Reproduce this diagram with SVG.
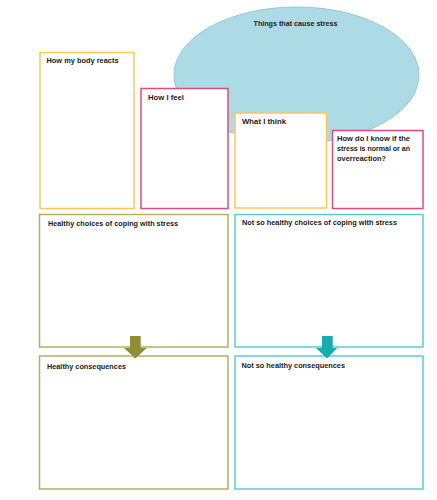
<svg xmlns="http://www.w3.org/2000/svg" width="437" height="500" viewBox="0 0 437 500">
<style>
.t{font-family:"Liberation Sans",Arial,sans-serif;font-weight:bold;font-size:7.2px;fill:#1a1a1a}
.box{fill:#fff;stroke-width:1.5}
.or{stroke:#fcc75a}
.pk{stroke:#e04d7c}
.ol{stroke:#b3ae68}
.tl{stroke:#5ccbd3}
</style>
<rect width="437" height="500" fill="#fff"/>
<g id="causes">
<ellipse cx="296.5" cy="75" rx="122.5" ry="68" fill="#addbe5" stroke="#93c8d6" stroke-width="1"/>
<text class="t" x="253.5" y="25.5" textLength="84" lengthAdjust="spacingAndGlyphs">Things that cause stress</text>
</g>
<g id="body">
<rect class="box or" x="40" y="52.5" width="94" height="156"/>
<text class="t" x="46.5" y="63" textLength="72" lengthAdjust="spacingAndGlyphs">How my body reacts</text>
</g>
<g id="feel">
<rect class="box pk" x="141" y="88.5" width="87" height="120"/>
<text class="t" x="148" y="99.5" textLength="36" lengthAdjust="spacingAndGlyphs">How I feel</text>
</g>
<g id="think">
<rect class="box or" x="235" y="113" width="91.5" height="95"/>
<text class="t" x="242" y="123.5" textLength="44" lengthAdjust="spacingAndGlyphs">What I think</text>
</g>
<g id="know">
<rect class="box pk" x="332.5" y="130.5" width="90.5" height="78"/>
<text class="t" x="337" y="140.5" textLength="73" lengthAdjust="spacingAndGlyphs">How do I know if the</text>
<text class="t" x="337" y="150.8" textLength="73" lengthAdjust="spacingAndGlyphs">stress is normal or an</text>
<text class="t" x="337" y="161" textLength="49" lengthAdjust="spacingAndGlyphs">overreaction?</text>
</g>
<g id="healthy-choices">
<rect class="box ol" x="39.5" y="214.5" width="188.5" height="132.5"/>
<text class="t" x="48" y="226" textLength="130" lengthAdjust="spacingAndGlyphs">Healthy choices of coping with stress</text>
</g>
<g id="unhealthy-choices">
<rect class="box tl" x="235" y="214.5" width="188" height="132.5"/>
<text class="t" x="242" y="224.5" textLength="155" lengthAdjust="spacingAndGlyphs">Not so healthy choices of coping with stress</text>
</g>
<g id="healthy-consequences">
<rect class="box ol" x="39.5" y="356" width="188.5" height="133"/>
<text class="t" x="47" y="369" textLength="79" lengthAdjust="spacingAndGlyphs">Healthy consequences</text>
</g>
<g id="unhealthy-consequences">
<rect class="box tl" x="235" y="356" width="188" height="133"/>
<text class="t" x="241.5" y="367.8" textLength="103.5" lengthAdjust="spacingAndGlyphs">Not so healthy consequences</text>
</g>
<g id="connectors">
<polygon points="130,336 140.7,336 140.7,348 146.7,348 135.3,358.5 124,348 130,348" fill="#8f8f32"/>
<polygon points="322,336 332.7,336 332.7,348 337.3,348 327,358.5 316,348 322,348" fill="#16adb1"/>
</g>
</svg>
